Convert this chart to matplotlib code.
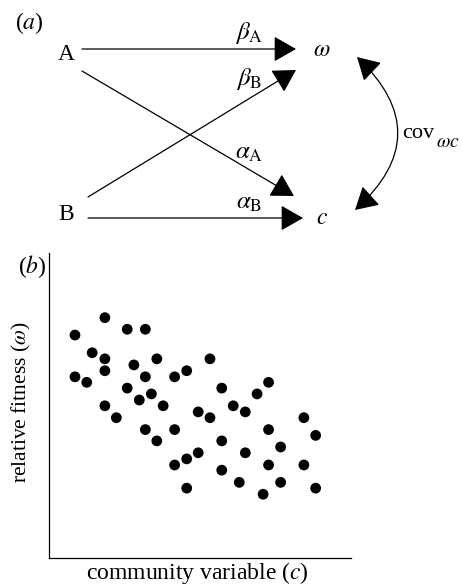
import matplotlib
matplotlib.use('Agg')
import matplotlib.pyplot as plt
from matplotlib.patches import FancyArrowPatch

plt.rcParams['font.family'] = ['Liberation Serif', 'DejaVu Serif']
plt.rcParams['mathtext.fontset'] = 'stix'

# path diagram nodes (pixel layout of panel a)
node_names = ['A', 'B', r'$\omega$', r'$c$']
node_x = [66, 66, 322, 322]
node_y = [55, 214, 50, 218]

# arrows: start and end points
arrow_start = [(82, 49), (82, 71), (88, 197), (88, 218)]
arrow_end = [(296, 49), (294, 196), (296, 70), (303, 218)]
arrow_labels = [r'$\beta_\mathrm{A}$', r'$\alpha_\mathrm{A}$', r'$\beta_\mathrm{B}$', r'$\alpha_\mathrm{B}$']
label_pos = [(249, 33), (249, 153), (249, 79), (249, 203)]

# scatter data (community variable, relative fitness)
comm_var = [0.86, 1.85, 2.59, 3.19, 1.43, 1.85, 1.85, 0.86, 1.25, 2.81, 3.57, 3.19,
            2.59, 2.99, 3.39, 3.78, 1.85, 2.23, 3.19, 3.57, 4.16, 4.16, 4.56, 5.33,
            4.94, 5.33, 5.72, 6.10, 6.50, 6.89, 7.27, 7.27, 5.72, 4.94, 4.56, 4.16,
            4.56, 5.72, 6.50, 6.30, 7.27, 7.67, 7.67, 7.09, 8.44, 8.83, 8.44, 8.83]
rel_fitness = [7.31, 7.88, 7.50, 7.50, 6.73, 6.53, 6.14, 5.94, 5.76, 6.33, 6.53, 5.94,
               5.57, 5.18, 5.38, 4.99, 4.99, 4.60, 4.21, 3.84, 4.21, 5.94, 6.14, 6.53,
               4.79, 4.60, 5.57, 4.99, 4.79, 5.38, 5.76, 4.21, 3.84, 3.45, 3.25, 3.05,
               2.29, 2.88, 3.45, 2.48, 3.05, 3.64, 2.48, 2.09, 4.60, 4.02, 3.05, 2.29]

W, H = 463, 586
fig = plt.figure(figsize=(W / 100, H / 100), dpi=100)

# panel (a): full-figure axes in pixel coords
ax0 = fig.add_axes([0, 0, 1, 1])
ax0.set_xlim(0, W)
ax0.set_ylim(H, 0)
ax0.axis('off')

ax0.text(29, 23, r'($a$)', fontsize=17, ha='center', va='center')
for name, x, y in zip(node_names, node_x, node_y):
    ax0.text(x, y, name, fontsize=17, ha='center', va='center')

for p0, p1 in zip(arrow_start, arrow_end):
    ar = FancyArrowPatch(p0, p1, arrowstyle='-|>,head_length=14,head_width=8',
                         mutation_scale=1, lw=0.9, color='black',
                         shrinkA=0, shrinkB=0)
    ax0.add_patch(ar)

for lab, (x, y) in zip(arrow_labels, label_pos):
    ax0.text(x, y, lab, fontsize=18, ha='center', va='center')

cov = FancyArrowPatch((357, 57), (355, 210), arrowstyle='<|-|>,head_length=14,head_width=8',
                      connectionstyle='arc3,rad=-0.54', mutation_scale=1, lw=0.9,
                      color='black', shrinkA=0, shrinkB=0)
ax0.add_patch(cov)
ax0.text(402, 138, 'cov', fontsize=16, ha='left', va='baseline')
ax0.text(436, 147, r'$\omega c$', fontsize=14, ha='left', va='baseline')

# panel (b)
left, right, top, bottom = 49, 351, 253, 558
ax = fig.add_axes([left / W, 1 - bottom / H, (right - left) / W, (bottom - top) / H])
ax.scatter(comm_var, rel_fitness, s=60, color='black', edgecolors='none')
ax.set_xlim(0, 10)
ax.set_ylim(0, 10)
ax.set_xticks([])
ax.set_yticks([])
for s in ['top', 'right']:
    ax.spines[s].set_visible(False)
for s in ['left', 'bottom']:
    ax.spines[s].set_linewidth(0.9)

ax0.text(32, 267, r'($b$)', fontsize=17, ha='center', va='center')
ax0.text(21, 402, r'relative fitness ($\omega$)', fontsize=15.5, rotation=90,
         ha='center', va='center')
ax0.text(197, 579, r'community variable ($c$)', fontsize=17, ha='center', va='baseline')

fig.savefig('out.png', dpi=100)
